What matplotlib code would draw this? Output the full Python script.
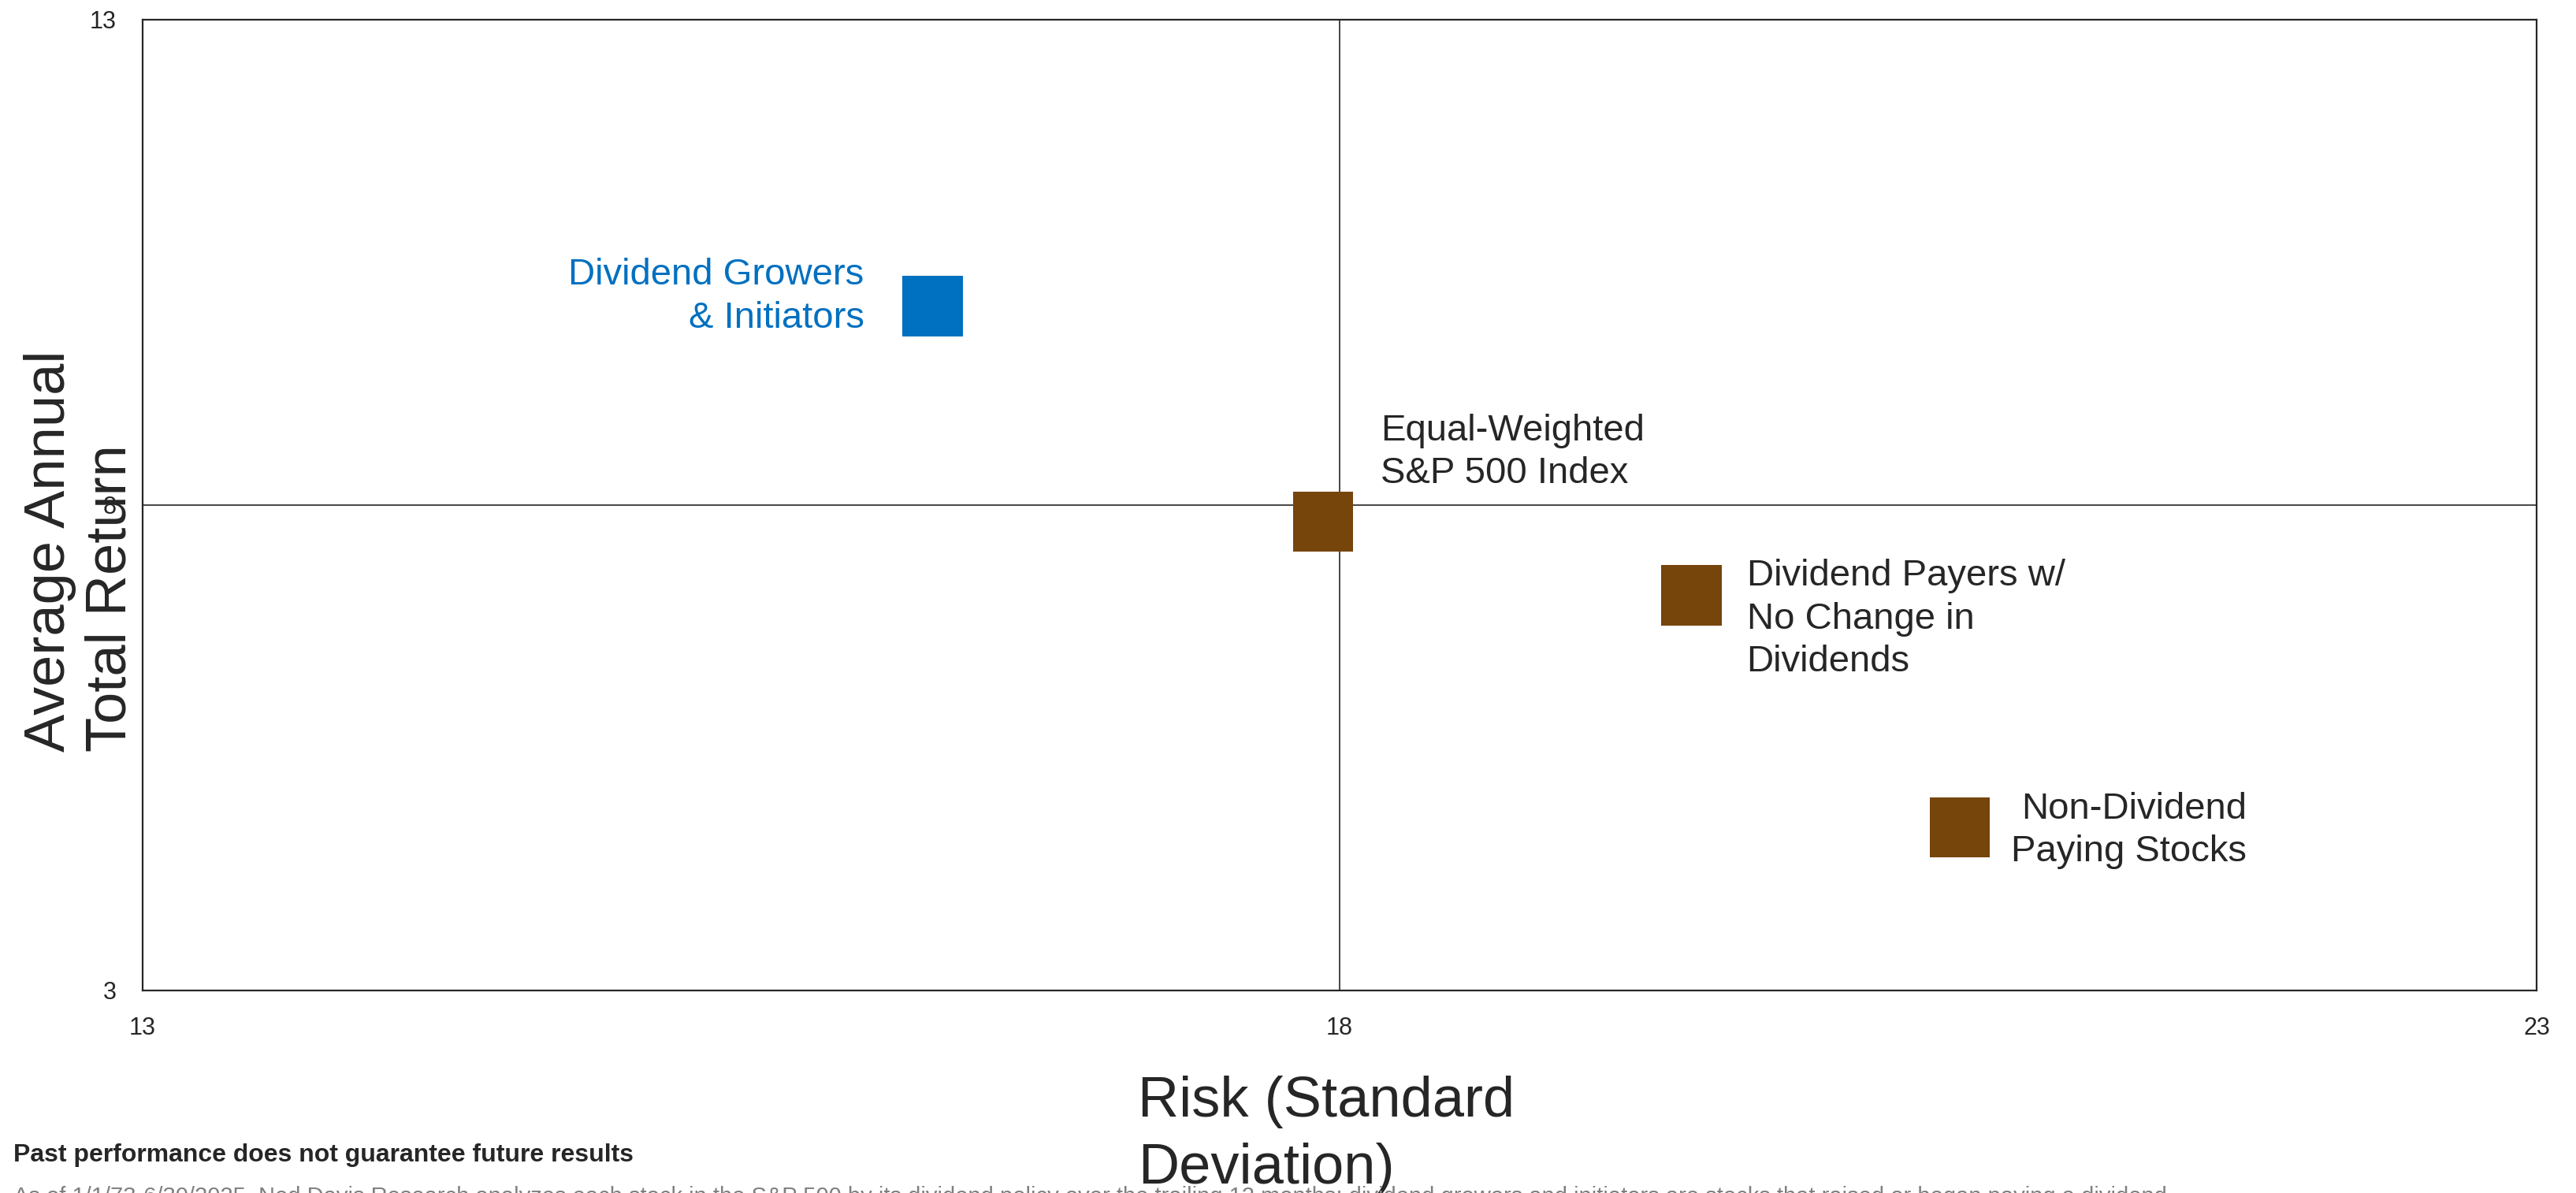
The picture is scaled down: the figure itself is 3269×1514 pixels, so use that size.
import matplotlib
matplotlib.use("Agg")
import matplotlib.pyplot as plt

plt.rcParams['font.family'] = ['Liberation Sans', 'DejaVu Sans']

# risk (std dev) vs average annual total return, 1973-2025
labels = ['Dividend Growers\n& Initiators',
          'Equal-Weighted\nS&P 500 Index',
          'Dividend Payers w/\nNo Change in\nDividends',
          'Non-Dividend\nPaying Stocks']
risk = [16.30, 17.93, 19.47, 20.59]
ret = [10.05, 7.83, 7.07, 4.68]
colors = ['#0070C0', '#75450C', '#75450C', '#75450C']
text_colors = ['#0070C0', '#262626', '#262626', '#262626']

x_ticks = [13, 18, 23]
y_ticks = [3, 8, 13]

# label placement next to each square (pixels), and alignment
offsets = [(-87, 12), (73, 88), (70, -30), (364, -4)]
aligns = ['right', 'left', 'left', 'right']

dark = '#262626'

fig = plt.figure(figsize=(32.69, 15.14), dpi=100)
ax = fig.add_axes([0.0554, 0.1698, 0.9293, 0.8137])

ax.set_xlim(13, 23)
ax.set_ylim(3, 13)
ax.set_xticks(x_ticks)
ax.set_yticks(y_ticks)
ax.tick_params(length=0, labelsize=22, labelcolor=dark, pad=24)
for s in ax.spines.values():
    s.set_color(dark)
    s.set_linewidth(1.6)

# quadrant lines through the middle
ax.axvline(18, color=dark, lw=1.2, zorder=1)
ax.axhline(8, color=dark, lw=1.2, zorder=1)

ax.scatter(risk, ret, marker='s', s=55 ** 2, c=colors, linewidths=0, zorder=3)

for x, y, lab, off, ha, tc in zip(risk, ret, labels, offsets, aligns, text_colors):
    ax.annotate(lab, xy=(x, y), xytext=off, textcoords='offset pixels',
                ha=ha, va='center', multialignment=ha, fontsize=34,
                color=tc, linespacing=1.3)

fig.text(0.0312, 0.538, 'Average Annual\nTotal Return', rotation=90,
         ha='center', va='center', multialignment='left',
         fontsize=52, color=dark, linespacing=1.2)
fig.text(0.5148, 0.0480, 'Risk (Standard\nDeviation)', ha='center',
         va='center', multialignment='left', fontsize=52, color=dark,
         linespacing=1.35)

fig.text(0.0052, 0.0317, 'Past performance does not guarantee future results',
         fontsize=23, fontweight='bold', color=dark, va='center')
fig.text(0.0052, 0.0060,
         'As of 1/1/73-6/30/2025. Ned Davis Research analyzes each stock in the S&P 500 by its dividend policy over the '
         'trailing 12 months; dividend growers and initiators are stocks that raised or began paying a dividend.',
         fontsize=21, color='#7f7f7f', va='top')

fig.savefig('out.png', dpi=100)
